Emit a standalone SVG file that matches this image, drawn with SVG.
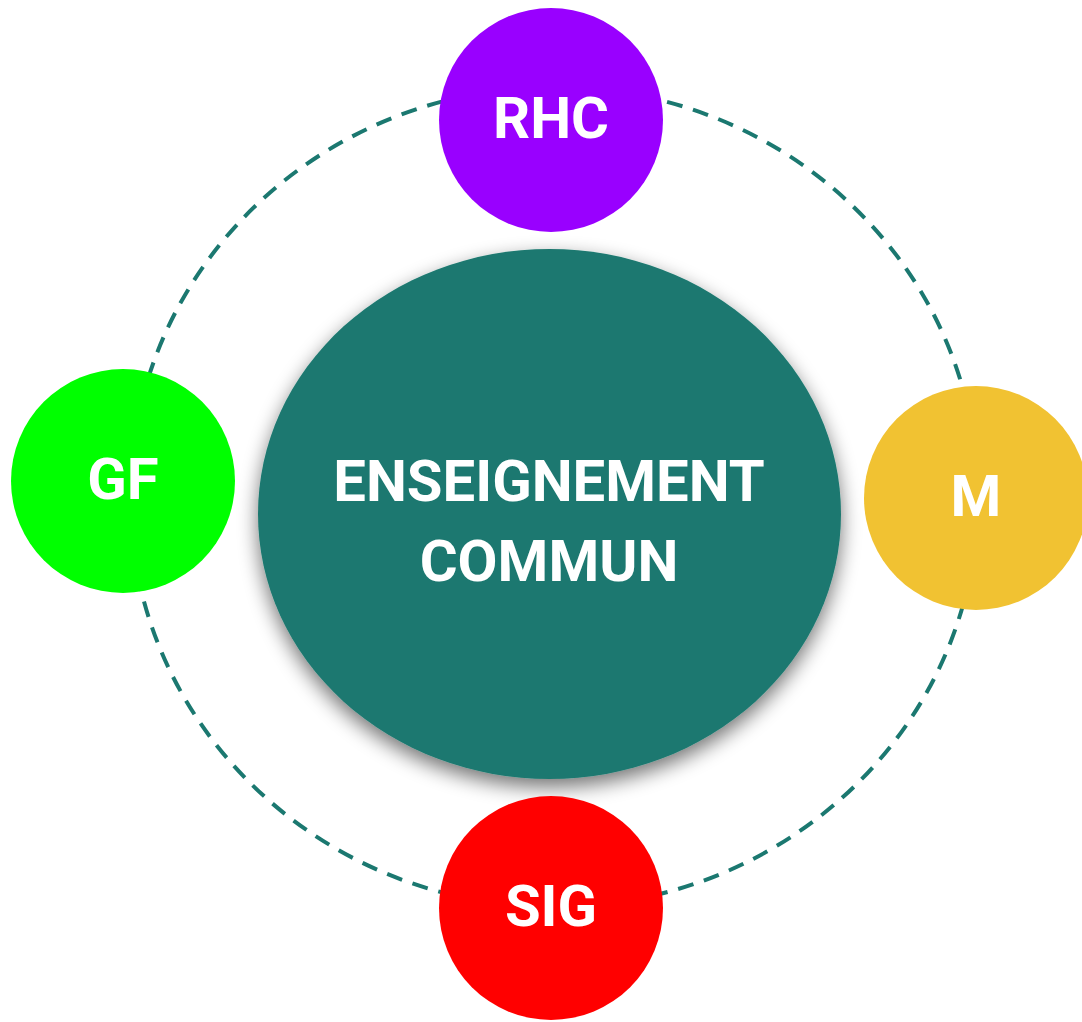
<svg xmlns="http://www.w3.org/2000/svg" width="1082" height="1022" viewBox="0 0 1082 1022">
<defs>
<filter id="shadow" x="-20%" y="-20%" width="140%" height="150%">
<feGaussianBlur in="SourceAlpha" stdDeviation="10"/>
<feOffset dx="0" dy="8" result="b"/>
<feComponentTransfer><feFuncA type="linear" slope="0.55"/></feComponentTransfer>
<feMerge><feMergeNode/><feMergeNode in="SourceGraphic"/></feMerge>
</filter>
</defs>
<style>
.lbl{font-family:Roboto,"Liberation Sans",sans-serif;font-weight:700;fill:#ffffff;text-anchor:middle}
.ring{fill:none;stroke:#1b7870;stroke-width:4;stroke-dasharray:16 11}
</style>
<rect width="1082" height="1022" fill="#ffffff"/>
<g id="connectors">
<ellipse class="ring" cx="554" cy="497" rx="424" ry="410"/>
</g>
<g id="center">
<ellipse cx="549.5" cy="514" rx="291.5" ry="265" fill="#1c786f" filter="url(#shadow)"/>
<text class="lbl" x="549" y="501" font-size="58">ENSEIGNEMENT</text>
<text class="lbl" x="549" y="581" font-size="58">COMMUN</text>
</g>
<g id="rhc">
<circle cx="551" cy="120" r="112" fill="#9900ff"/>
<text class="lbl" x="551" y="138" font-size="58">RHC</text>
</g>
<g id="gf">
<circle cx="123" cy="481" r="112" fill="#00ff00"/>
<text class="lbl" x="123" y="499" font-size="58">GF</text>
</g>
<g id="m">
<circle cx="976" cy="498" r="112" fill="#f1c232"/>
<text class="lbl" x="976" y="516" font-size="58">M</text>
</g>
<g id="sig">
<circle cx="551" cy="908" r="112" fill="#ff0000"/>
<text class="lbl" x="551" y="926" font-size="58">SIG</text>
</g>
</svg>
